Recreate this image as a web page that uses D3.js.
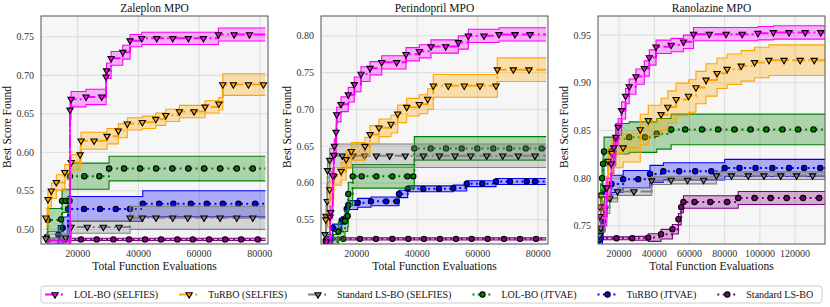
<!DOCTYPE html>
<html>
<head>
<meta charset="utf-8">
<script src="https://cdn.jsdelivr.net/npm/d3@7"></script>
<style>
  body { margin: 0; background: #fff; }
  svg text { font-family: "Liberation Serif", "Times New Roman", "DejaVu Serif", serif; }
</style>
</head>
<body>
<div id="chart"></div>
<script>
// each row: [function evaluations, mean best score, std error]
// --- Zaleplon MPO
var zalLolSelfies = [[10000,0.47,0.015],[17460,0.655,0.012],[17800,0.669,0.01],[22740,0.672,0.01],[27900,0.672,0.01],[29330,0.698,0.01],[29500,0.706,0.01],[31000,0.722,0.009],[34840,0.730,0.009],[37240,0.745,0.008],[41100,0.748,0.008],[46050,0.748,0.008],[51320,0.748,0.008],[56470,0.748,0.008],[61420,0.748,0.008],[66360,0.753,0.0085],[71530,0.753,0.0085],[76580,0.753,0.0085]];
var zalTurboSelfies = [[9500,0.515,0.012],[10200,0.539,0.01],[11300,0.550,0.01],[12950,0.561,0.01],[15750,0.574,0.01],[17850,0.587,0.01],[20800,0.597,0.011],[21100,0.615,0.011],[25400,0.615,0.011],[29660,0.621,0.01],[33390,0.628,0.009],[36350,0.637,0.008],[41300,0.639,0.008],[45720,0.643,0.008],[49010,0.648,0.008],[53500,0.653,0.008],[58340,0.653,0.008],[61970,0.659,0.008],[66490,0.663,0.008],[67800,0.688,0.014],[71300,0.688,0.014],[76250,0.688,0.014],[81200,0.688,0.014]];
var zalLsboSelfies = [[9500,0.488,0.006],[16040,0.489,0.006],[17800,0.503,0.008],[23170,0.503,0.008],[28440,0.503,0.008],[33620,0.503,0.008],[37240,0.515,0.015],[41300,0.515,0.015],[45810,0.515,0.015],[51320,0.515,0.015],[56270,0.515,0.015],[61640,0.515,0.015],[66920,0.515,0.015],[72420,0.515,0.015],[77700,0.515,0.015]];
var zalLolJtvae = [[9800,0.49,0.01],[10110,0.512,0.015],[14500,0.513,0.015],[14830,0.537,0.015],[16040,0.537,0.015],[17300,0.537,0.015],[17400,0.569,0.017],[22180,0.569,0.017],[27120,0.569,0.017],[30320,0.579,0.016],[35260,0.579,0.016],[40540,0.579,0.016],[45810,0.579,0.016],[51190,0.579,0.016],[56460,0.579,0.016],[61640,0.579,0.016],[66920,0.579,0.016],[72420,0.579,0.016],[77700,0.579,0.016]];
var zalTurboJtvae = [[9500,0.47,0.01],[13600,0.493,0.012],[15050,0.502,0.014],[16800,0.5266,0.016],[22080,0.5266,0.016],[27350,0.5266,0.016],[32530,0.5266,0.016],[37240,0.5266,0.016],[41430,0.5332,0.017],[46800,0.5332,0.017],[51520,0.5332,0.017],[57260,0.5332,0.017],[62530,0.5332,0.017],[67810,0.5332,0.017],[72950,0.5332,0.017],[78460,0.5332,0.017]];
var zalLsbo = [[10110,0.487,0.0015],[15810,0.487,0.0015],[21090,0.487,0.0015],[26260,0.487,0.0015],[31740,0.487,0.0015],[36910,0.487,0.0015],[42190,0.487,0.0015],[47460,0.487,0.0015],[52840,0.487,0.0015],[57920,0.487,0.0015],[63290,0.487,0.0015],[68570,0.487,0.0015],[73840,0.487,0.0015],[79350,0.487,0.0015]];

// --- Perindopril MPO
var perLolSelfies = [[10000,0.52,0.005],[11170,0.554,0.008],[11400,0.560,0.008],[12070,0.610,0.01],[12400,0.638,0.01],[12600,0.650,0.01],[13170,0.669,0.01],[13390,0.693,0.01],[14810,0.707,0.01],[17220,0.720,0.01],[19210,0.734,0.01],[21420,0.748,0.01],[24400,0.756,0.009],[28270,0.764,0.009],[33220,0.764,0.009],[36300,0.775,0.009],[40700,0.779,0.009],[44560,0.7855,0.009],[49420,0.7855,0.009],[53590,0.791,0.009],[56900,0.800,0.009],[62090,0.800,0.009],[67040,0.802,0.009],[72330,0.802,0.009],[77290,0.802,0.009]];
var perTurboSelfies = [[9800,0.55,0.01],[11070,0.591,0.012],[12430,0.609,0.012],[14850,0.616,0.012],[16500,0.632,0.012],[18200,0.643,0.012],[22740,0.650,0.012],[24400,0.666,0.012],[27370,0.675,0.012],[31340,0.680,0.012],[33550,0.694,0.012],[36530,0.703,0.012],[40700,0.707,0.013],[43470,0.714,0.014],[45320,0.732,0.0155],[50280,0.732,0.0155],[55570,0.732,0.0155],[60760,0.732,0.0155],[66050,0.732,0.0155],[66480,0.754,0.016],[71770,0.754,0.016],[76960,0.754,0.016]];
var perLsboSelfies = [[9500,0.53,0.01],[9880,0.555,0.015],[10250,0.575,0.015],[10350,0.617,0.016],[11070,0.631,0.016],[12500,0.637,0.016],[15240,0.637,0.016],[18770,0.637,0.016],[22640,0.637,0.016],[26480,0.637,0.016],[30900,0.637,0.016],[36070,0.637,0.016],[42020,0.637,0.016],[47310,0.637,0.016],[52500,0.637,0.016],[57690,0.637,0.016],[62980,0.637,0.016],[68270,0.637,0.016],[73420,0.637,0.016],[78950,0.637,0.016]];
var perLolJtvae = [[9800,0.52,0.01],[13920,0.534,0.012],[16130,0.548,0.014],[17020,0.555,0.015],[17220,0.585,0.016],[18680,0.609,0.016],[21650,0.609,0.016],[26510,0.609,0.016],[31800,0.609,0.016],[36760,0.609,0.016],[38700,0.609,0.016],[39040,0.647,0.016],[44460,0.647,0.016],[49520,0.647,0.016],[54710,0.647,0.016],[59870,0.647,0.016],[65160,0.647,0.016],[70450,0.647,0.016],[75870,0.647,0.016],[81160,0.647,0.016]];
var perTurboJtvae = [[9800,0.522,0.004],[12070,0.539,0.005],[15040,0.549,0.005],[16370,0.552,0.005],[16700,0.5645,0.005],[17220,0.570,0.006],[20330,0.573,0.006],[24730,0.575,0.006],[29690,0.575,0.006],[33220,0.575,0.006],[33980,0.585,0.005],[36860,0.592,0.004],[42020,0.592,0.004],[47200,0.592,0.004],[51930,0.593,0.004],[56370,0.599,0.004],[61530,0.599,0.004],[66050,0.602,0.004],[70680,0.602,0.004],[76200,0.602,0.004],[78950,0.602,0.004]];
var perLsbo = [[10610,0.524,0.0015],[15570,0.524,0.0015],[21090,0.524,0.0015],[26380,0.524,0.0015],[31770,0.524,0.0015],[37060,0.524,0.0015],[42250,0.524,0.0015],[47540,0.524,0.0015],[52830,0.524,0.0015],[58020,0.524,0.0015],[63310,0.524,0.0015],[68700,0.524,0.0015],[73990,0.524,0.0015],[79280,0.524,0.0015]];

// --- Ranolazine MPO
var ranLolSelfies = [[9000,0.76,0.01],[13000,0.79,0.01],[15500,0.815,0.01],[17000,0.832,0.01],[18120,0.843,0.009],[19430,0.8535,0.009],[21370,0.871,0.009],[23660,0.886,0.008],[25710,0.896,0.008],[29540,0.9065,0.008],[34290,0.915,0.008],[37140,0.9265,0.008],[40970,0.9377,0.007],[49540,0.9395,0.007],[56570,0.943,0.007],[62280,0.951,0.007],[71260,0.951,0.007],[80800,0.951,0.007],[89940,0.951,0.007],[98860,0.952,0.007],[107660,0.9528,0.007],[116570,0.9528,0.007],[125710,0.9528,0.007],[134570,0.9528,0.007]];
var ranTurboSelfies = [[9000,0.77,0.012],[12400,0.79,0.012],[13710,0.818,0.014],[16000,0.826,0.015],[22290,0.832,0.015],[32000,0.851,0.016],[36570,0.8605,0.016],[43830,0.8668,0.017],[47660,0.8745,0.017],[52400,0.8826,0.017],[59430,0.8861,0.017],[63660,0.895,0.017],[69370,0.903,0.017],[75660,0.910,0.016],[81370,0.9142,0.016],[89370,0.9177,0.016],[96970,0.9213,0.016],[105140,0.9237,0.016],[113710,0.9237,0.016],[122860,0.9237,0.016],[130860,0.9237,0.016]];
var ranLsboSelfies = [[9000,0.74,0.003],[9540,0.7476,0.004],[11830,0.767,0.004],[14690,0.779,0.004],[19090,0.786,0.004],[28400,0.786,0.004],[38510,0.7974,0.004],[49540,0.798,0.004],[58860,0.798,0.004],[68000,0.798,0.004],[75260,0.8026,0.004],[83830,0.8026,0.004],[93370,0.8026,0.004],[102280,0.8026,0.004],[111830,0.8026,0.004],[120800,0.8026,0.004],[129940,0.8026,0.004]];
var ranLolJtvae = [[8500,0.745,0.01],[9540,0.782,0.012],[10300,0.80,0.012],[10860,0.815,0.014],[11430,0.828,0.015],[15260,0.828,0.015],[18120,0.8413,0.016],[25710,0.843,0.016],[34690,0.843,0.016],[41370,0.8465,0.016],[49540,0.8511,0.016],[57540,0.8511,0.016],[67080,0.8511,0.016],[76230,0.8511,0.016],[85540,0.8511,0.016],[94690,0.8511,0.016],[103650,0.8511,0.016],[112800,0.8511,0.016],[121710,0.8511,0.016],[130500,0.8511,0.016]];
var ranTurboJtvae = [[8500,0.735,0.005],[10510,0.746,0.006],[10860,0.755,0.006],[11430,0.769,0.007],[11830,0.784,0.008],[15660,0.794,0.009],[22290,0.799,0.009],[30860,0.799,0.009],[37540,0.8044,0.009],[45140,0.8072,0.009],[54110,0.8072,0.009],[63250,0.8072,0.009],[72400,0.8072,0.009],[80000,0.8107,0.009],[88400,0.8107,0.009],[97540,0.8107,0.009],[107100,0.8107,0.009],[116570,0.8107,0.009],[125140,0.8107,0.009],[134280,0.8107,0.009]];
var ranLsbo = [[9540,0.737,0.0015],[18510,0.737,0.0015],[27430,0.737,0.002],[36570,0.7377,0.004],[43830,0.7413,0.005],[50290,0.7465,0.005],[53710,0.757,0.006],[55260,0.7697,0.006],[56570,0.775,0.0065],[62850,0.775,0.0065],[71830,0.775,0.0065],[81370,0.775,0.0065],[87660,0.7792,0.0068],[96970,0.7792,0.0068],[106110,0.7792,0.0068],[115250,0.7792,0.0068],[124570,0.7792,0.0068],[133710,0.7792,0.0068]];

var seriesNames = ["LOL-BO (SELFIES)", "TuRBO (SELFIES)", "Standard LS-BO (SELFIES)", "LOL-BO (JTVAE)", "TuRBO (JTVAE)", "Standard LS-BO"];
var titles = ["Zaleplon MPO", "Perindopril MPO", "Ranolazine MPO"];
var xTicks = [[20000, 40000, 60000, 80000], [20000, 40000, 60000, 80000], [20000, 40000, 60000, 80000, 100000, 120000]];
var yTicks = [[0.50, 0.55, 0.60, 0.65, 0.70, 0.75], [0.55, 0.60, 0.65, 0.70, 0.75, 0.80], [0.75, 0.80, 0.85, 0.90, 0.95]];
var xDomains = [[7900, 82700], [8200, 83240], [8000, 137000]];
var yDomains = [[0.481, 0.777], [0.517, 0.827], [0.731, 0.970]];
var xEnds = [81800, 82600, 137000];
var panelData = [
  [zalLolSelfies, zalTurboSelfies, zalLsboSelfies, zalLolJtvae, zalTurboJtvae, zalLsbo],
  [perLolSelfies, perTurboSelfies, perLsboSelfies, perLolJtvae, perTurboJtvae, perLsbo],
  [ranLolSelfies, ranTurboSelfies, ranLsboSelfies, ranLolJtvae, ranTurboJtvae, ranLsbo]
];

(function () {
var colors = ["#ff00ff", "#ffa500", "#808080", "#008000", "#0000ff", "#800080"],
	selfies = [true, true, true, false, false, false],
	panelLeft = [41, 321, 598],
	panelW = 227,
	plotTop = 16,
	plotBottom = 244,
	width = 830,
	height = 307;

var svg = d3.select("#chart").append("svg")
	.attr("width", width)
	.attr("height", height)
	.attr("font-family", "Liberation Serif, Times New Roman, serif");

function dashFor(i) { return selfies[i] ? "12.8,3.2,2,3.2" : "2,3.3"; }

function marker(g, i, x, y) {
	var sym = selfies[i]
		? d3.symbol().type(d3.symbolTriangle).size(17)
		: d3.symbol().type(d3.symbolCircle).size(22);
	g.append("path")
		.attr("d", sym())
		.attr("transform", "translate(" + x + "," + y + ")" + (selfies[i] ? " rotate(180)" : ""))
		.attr("fill", colors[i])
		.attr("stroke", "#000")
		.attr("stroke-width", 1.1);
}

panelData.forEach(function (series, p) {
	var left = panelLeft[p], right = left + panelW;
	var x = d3.scaleLinear().domain(xDomains[p]).range([left, right]);
	var y = d3.scaleLinear().domain(yDomains[p]).range([plotBottom, plotTop]);

	var g = svg.append("g");

	g.append("rect")
		.attr("x", left).attr("y", plotTop)
		.attr("width", panelW).attr("height", plotBottom - plotTop)
		.attr("fill", "#f6f6f6");

	// grid
	g.selectAll(".gx").data(xTicks[p]).enter().append("line")
		.attr("x1", d => x(d)).attr("x2", d => x(d))
		.attr("y1", plotTop).attr("y2", plotBottom)
		.attr("stroke", "#dcdcdc").attr("stroke-width", 1);
	g.selectAll(".gy").data(yTicks[p]).enter().append("line")
		.attr("x1", left).attr("x2", right)
		.attr("y1", d => y(d)).attr("y2", d => y(d))
		.attr("stroke", "#dcdcdc").attr("stroke-width", 1);

	svg.append("clipPath").attr("id", "clip" + p)
		.append("rect")
		.attr("x", left).attr("y", plotTop)
		.attr("width", panelW).attr("height", plotBottom - plotTop);

	var plot = g.append("g").attr("clip-path", "url(#clip" + p + ")");

	var lineGen = d3.line().curve(d3.curveStepAfter)
		.x(d => x(d[0])).y(d => y(d[1]));
	var areaGen = d3.area().curve(d3.curveStepAfter)
		.x(d => x(d[0]))
		.y0(d => y(d[1] - d[2]))
		.y1(d => y(d[1] + d[2]));

	var ext = series.map(function (s) {
		var last = s[s.length - 1];
		return s.concat([[xEnds[p], last[1], last[2]]]);
	});

	// draw in reverse so the LOL-BO (SELFIES) curve is on top
	for (var i = series.length - 1; i >= 0; i--) {
		var s = ext[i];
		plot.append("path")
			.attr("d", areaGen(s))
			.attr("fill", colors[i])
			.attr("fill-opacity", 0.3);
		plot.append("path")
			.attr("d", lineGen(s.map(d => [d[0], d[1] - d[2]])))
			.attr("fill", "none").attr("stroke", colors[i]).attr("stroke-width", 1.1);
		plot.append("path")
			.attr("d", lineGen(s.map(d => [d[0], d[1] + d[2]])))
			.attr("fill", "none").attr("stroke", colors[i]).attr("stroke-width", 1.1);
		plot.append("path")
			.attr("d", lineGen(s))
			.attr("fill", "none")
			.attr("stroke", colors[i])
			.attr("stroke-width", 2)
			.attr("stroke-dasharray", dashFor(i));
		series[i].forEach(function (d) {
			marker(plot, i, x(d[0]), y(d[1]));
		});
	}

	// frame
	g.append("rect")
		.attr("x", left).attr("y", plotTop)
		.attr("width", panelW).attr("height", plotBottom - plotTop)
		.attr("fill", "none")
		.attr("stroke", "#555").attr("stroke-width", 1);

	// tick labels
	g.selectAll(".xt").data(xTicks[p]).enter().append("text")
		.attr("x", d => x(d)).attr("y", plotBottom + 13)
		.attr("text-anchor", "middle")
		.attr("font-size", 10).attr("fill", "#333")
		.text(d => d);
	g.selectAll(".yt").data(yTicks[p]).enter().append("text")
		.attr("x", left - 7).attr("y", d => y(d))
		.attr("dy", "0.35em")
		.attr("text-anchor", "end")
		.attr("font-size", 10).attr("fill", "#333")
		.text(d => d.toFixed(2));

	g.append("text")
		.attr("x", (left + right) / 2).attr("y", 12)
		.attr("text-anchor", "middle")
		.attr("font-size", 11.5).attr("fill", "#111")
		.text(titles[p]);
	g.append("text")
		.attr("x", (left + right) / 2).attr("y", 270)
		.attr("text-anchor", "middle")
		.attr("font-size", 11.5).attr("fill", "#111")
		.text("Total Function Evaluations");
	g.append("text")
		.attr("transform", "translate(" + (left - 30) + "," + ((plotTop + plotBottom) / 2 - 3) + ") rotate(-90)")
		.attr("text-anchor", "middle")
		.attr("font-size", 11.5).attr("fill", "#111")
		.text("Best Score Found");
});

// legend
var legend = svg.append("g");
legend.append("rect")
	.attr("x", 41).attr("y", 286)
	.attr("width", 781).attr("height", 17)
	.attr("rx", 3)
	.attr("fill", "#fff")
	.attr("stroke", "#ccc");

var lx = 45;
seriesNames.forEach(function (name, i) {
	var item = legend.append("g");
	item.append("line")
		.attr("x1", lx).attr("x2", lx + 20)
		.attr("y1", 294.5).attr("y2", 294.5)
		.attr("stroke", colors[i]).attr("stroke-width", 2)
		.attr("stroke-dasharray", dashFor(i));
	marker(item, i, lx + 10, 294.5);
	var t = item.append("text")
		.attr("x", lx + 29).attr("y", 298)
		.attr("font-size", 10).attr("fill", "#111")
		.text(name);
	lx = lx + 29 + t.node().getComputedTextLength() + 21;
});
})();
</script>
</body>
</html>
